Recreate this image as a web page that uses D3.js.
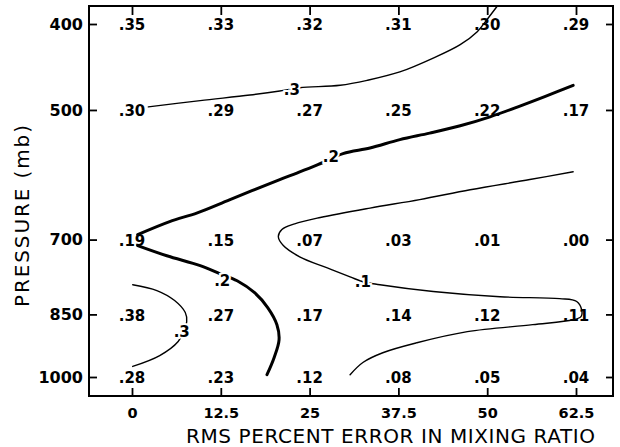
<!DOCTYPE html>
<html>
<head>
<meta charset="utf-8">
<script src="https://cdn.jsdelivr.net/npm/d3@7"></script>
<style>
  body { margin: 0; background: #fff; }
  text { font-family: "DejaVu Sans", sans-serif; fill: #000; }
</style>
</head>
<body>
<div id="container"></div>
<script>
// size of the picture
let w = 620;
let h = 447;

// grid of the table
let errors = [0, 12.5, 25, 37.5, 50, 62.5];
let errorLabels = ["0", "12.5", "25", "37.5", "50", "62.5"];
let pressures = [400, 500, 700, 850, 1000];

// values printed at each grid point, one row per pressure
let row400 = [".35", ".33", ".32", ".31", ".30", ".29"];
let row500 = [".30", ".29", ".27", ".25", ".22", ".17"];
let row700 = [".19", ".15", ".07", ".03", ".01", ".00"];
let row850 = [".38", ".27", ".17", ".14", ".12", ".11"];
let row1000 = [".28", ".23", ".12", ".08", ".05", ".04"];
let rows = [row400, row500, row700, row850, row1000];

// contour lines: [percent error, pressure]
let upper3 = [[2.3,496],[9.6,488],[16.6,481],[20.8,476],[23.6,472],[29.3,469],[33.1,463],
  [37.7,453],[42.4,437],[46.2,422],[48.6,408],[49.7,398],[51.4,382]];
let upper2 = [[0.8,691],[5.3,668],[9.2,653],[13.8,631],[20.8,599],[23.2,589],[26.0,577],
  [29.7,560],[33.5,552],[37.7,540],[41.9,531],[46.2,521],[50.4,509],[54.6,495],[58.1,483],[62.1,469]];
let lower2 = [[0.8,711],[4.9,730],[9.6,749],[12.4,765],[14.8,779],[17.3,804],[19.1,835],
  [20.4,873],[20.7,908],[20.0,951],[19.0,994]];
let lower3 = [[0.1,787],[3.5,799],[6.0,820],[7.5,846],[7.7,866],[7.3,887],[6.5,912],[3.9,946],[0.1,973]];
let line1 = [[62.1,587],[56.0,599],[47.6,615],[40.5,631],[33.5,645],[26.5,661],[22.9,672],
  [21.1,682],[20.6,695],[21.3,711],[23.6,732],[27.4,753],[30.7,771],[32.5,781],[34.9,787],
  [42.4,801],[51.8,812],[60.2,816],[62.6,822],[63.3,840],[63.2,855],[62.1,862],[56.4,873],
  [47.2,889],[40.1,915],[35.3,939],[32.5,963],[30.7,994]];

let contourLines = [upper3, upper2, lower2, lower3, line1];
let contourWeights = [1.4, 3, 3, 1.4, 1.4];

// contour labels: text and where they sit
let contourLabelText = [".3", ".2", ".2", ".3", ".1"];
let contourLabelPos = [[22.5,474],[28.0,564],[12.7,779],[7.0,887],[32.5,781]];

let frame = {left: 89, top: 6, right: 613, bottom: 396};

let viz = d3.select("#container")
  .append("svg")
    .attr("width", w)
    .attr("height", h)
    .style("background-color", "white");

let xScale = d3.scaleLinear().domain([0, 62.5]).range([132, 576]);
let yScale = d3.scaleLog().domain([400, 1000]).range([24, 377]);

// axes, ticks point inwards
let bottomAxis = d3.axisBottom(xScale).tickValues(errors)
  .tickFormat((d, i) => errorLabels[i]).tickSizeInner(-8).tickSizeOuter(0).tickPadding(12);
let topAxis = d3.axisTop(xScale).tickValues(errors).tickFormat("").tickSizeInner(-9).tickSizeOuter(0);
let leftAxis = d3.axisLeft(yScale).tickValues(pressures).tickFormat(d3.format("d"))
  .tickSizeInner(-8).tickSizeOuter(0).tickPadding(6);
let rightAxis = d3.axisRight(yScale).tickValues(pressures).tickFormat("").tickSizeInner(-7).tickSizeOuter(0);

function styleAxis(g, size) {
  g.select(".domain").remove();
  g.selectAll("line").attr("stroke", "#000").attr("stroke-width", 1.8);
  g.selectAll("text").style("font-family", "DejaVu Sans").style("font-weight", "bold")
    .style("font-size", size + "px").attr("fill", "#000");
}

viz.append("g").attr("transform", "translate(0," + frame.bottom + ")").call(bottomAxis).call(styleAxis, 14.5);
viz.append("g").attr("transform", "translate(0," + frame.top + ")").call(topAxis).call(styleAxis, 14);
viz.append("g").attr("transform", "translate(" + frame.left + ",0)").call(leftAxis).call(styleAxis, 16);
viz.append("g").attr("transform", "translate(" + frame.right + ",0)").call(rightAxis).call(styleAxis, 14);

// frame
viz.append("rect")
  .attr("x", frame.left).attr("y", frame.top)
  .attr("width", frame.right - frame.left).attr("height", frame.bottom - frame.top)
  .attr("fill", "none").attr("stroke", "#000").attr("stroke-width", 2);

// contour lines
let line = d3.line()
  .x(d => xScale(d[0]))
  .y(d => yScale(d[1]))
  .curve(d3.curveCatmullRom.alpha(0.5));

viz.selectAll(".contour").data(contourLines).enter()
  .append("path")
    .attr("class", "contour")
    .attr("d", line)
    .attr("fill", "none")
    .attr("stroke", "#000")
    .attr("stroke-width", (d, i) => contourWeights[i])
    .attr("stroke-linecap", "round");

// grid values
let cells = [];
rows.forEach((r, j) => r.forEach((v, i) => cells.push({x: errors[i], p: pressures[j], v: v})));

viz.selectAll(".value").data(cells).enter()
  .append("text")
    .attr("class", "value")
    .attr("x", d => xScale(d.x))
    .attr("y", d => yScale(d.p))
    .attr("dy", "0.42em")
    .attr("text-anchor", "middle")
    .style("font-size", "15px")
    .style("font-weight", "bold")
    .text(d => d.v);

// contour labels, white halo breaks the line
viz.selectAll(".clabel").data(contourLabelPos).enter()
  .append("text")
    .attr("class", "clabel")
    .attr("x", d => xScale(d[0]))
    .attr("y", d => yScale(d[1]))
    .attr("dy", "0.38em")
    .attr("text-anchor", "middle")
    .style("font-size", "15px")
    .style("font-weight", "bold")
    .style("paint-order", "stroke")
    .attr("stroke", "white")
    .attr("stroke-width", 4)
    .text((d, i) => contourLabelText[i]);

// axis titles
viz.append("text")
  .attr("x", 186).attr("y", 443)
  .attr("textLength", 409).attr("lengthAdjust", "spacing")
  .style("font-size", "20px")
  .text("RMS PERCENT ERROR IN MIXING RATIO");

viz.append("text")
  .attr("transform", "translate(29,307) rotate(-90)")
  .attr("textLength", 182).attr("lengthAdjust", "spacing")
  .style("font-size", "20px")
  .text("PRESSURE (mb)");
</script>
</body>
</html>
